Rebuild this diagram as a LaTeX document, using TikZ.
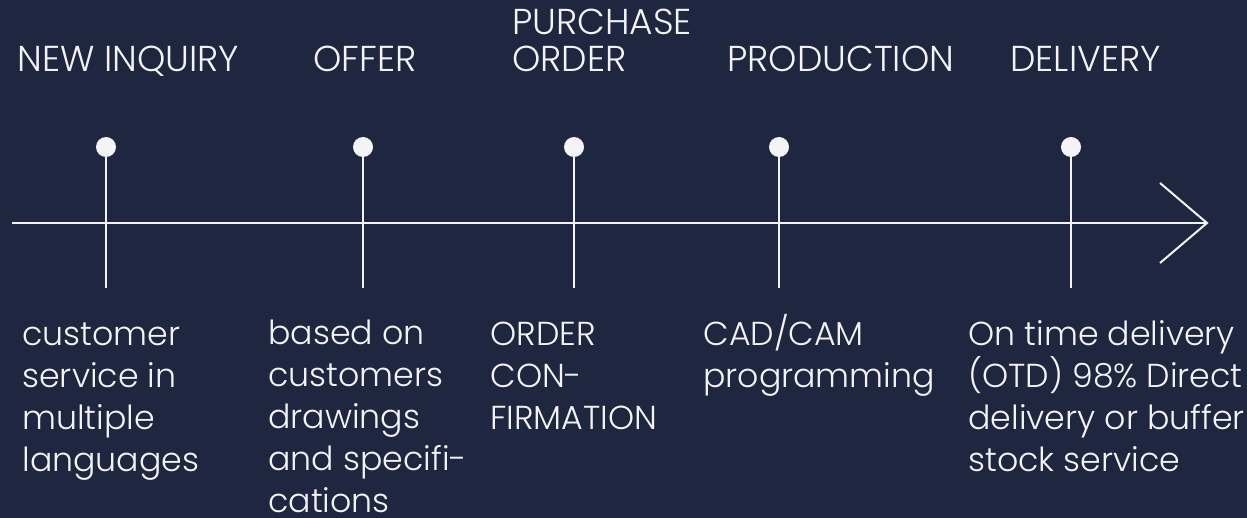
\documentclass[tikz,border=0pt]{standalone}
\usepackage{fontspec}
\setmainfont{Poppins}[UprightFont={* Light}]
\usetikzlibrary{positioning}
\definecolor{navy}{HTML}{1F2640}
\definecolor{chalk}{HTML}{F4F4F6}

\begin{document}
\begin{tikzpicture}[x=0.5pt,y=-0.5pt,
	every node/.style={text=chalk,inner sep=0pt},
	stage/.style={anchor=base west,align=left,font=\fontsize{18}{18.5}\selectfont},
	note/.style={anchor=base west,align=left,font=\fontsize{16.6}{21}\selectfont},
	pin/.style={circle,fill=chalk,minimum size=10pt},
	rail/.style={draw=chalk,line width=1pt}]
	\useasboundingbox (0,0) rectangle (1247,518);
	\fill[navy] (0,0) rectangle (1247,518);
	
	%the time axis with its open head
	\coordinate (start) at (12,223);
	\coordinate (tip) at (1207,223);
	\coordinate (barbup) at (1160,183);
	\coordinate (barbdown) at (1160,263);
	\draw[rail] (start) -- (tip);
	\draw[rail,line join=miter] (barbup) -- (tip) -- (barbdown);
	
	%pins on the axis
	\foreach \name/\x in {inquiry/106,offer/363,order/574,production/779,delivery/1071}{
		\node[pin] (\name) at (\x,147) {};
		\coordinate (\name-foot) at (\x,288);
		\draw[rail] (\name.center) -- (\name-foot);
	}
	
	%stage names (base = last line)
	\node[stage] (inquiry-title) at (17,72) {NEW INQUIRY};
	\node[stage] (offer-title) at (313,72) {OFFER};
	\node[stage] (order-title) at (512,72) {PURCHASE\\ORDER};
	\node[stage] (production-title) at (727,72) {PRODUCTION};
	\node[stage] (delivery-title) at (1010,72) {DELIVERY};
	
	%what happens at each stage
	\node[note] (inquiry-note) at (22,471) {customer\\service in\\multiple\\languages};
	\node[note] (offer-note) at (268,512) {based on\\customers\\drawings\\and specifi-\\cations};
	\node[note] (order-note) at (490,429) {ORDER\\CON-\\FIRMATION};
	\node[note] (production-note) at (703,387) {CAD/CAM\\programming};
	\node[note] (delivery-note) at (968,471) {On time delivery\\(OTD) 98\% Direct\\delivery or buffer\\stock service};
	
\end{tikzpicture}
\end{document}
